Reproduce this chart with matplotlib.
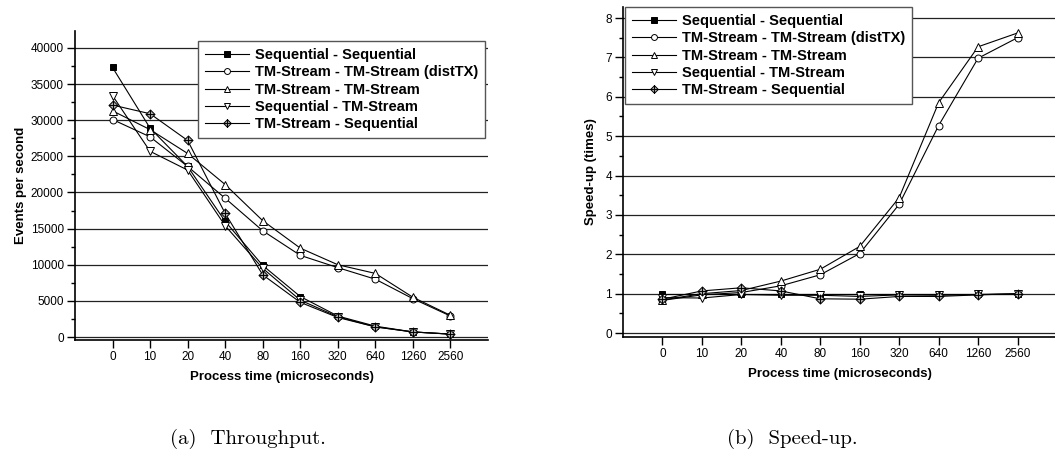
import matplotlib
matplotlib.use("Agg")
import matplotlib.pyplot as plt
from matplotlib.path import Path
from matplotlib.ticker import MultipleLocator

plt.rcParams['font.family'] = ['Liberation Sans', 'DejaVu Sans']

# Datos
tiempos = ["0", "10", "20", "40", "80", "160", "320", "640", "1260", "2560"]
series = ["Sequential - Sequential", "TM-Stream - TM-Stream (distTX)",
          "TM-Stream - TM-Stream", "Sequential - TM-Stream", "TM-Stream - Sequential"]

# Throughput (eventos por segundo)
thr_seq_seq = [37300, 28900, 23600, 16000, 9900, 5600, 2900, 1500, 700, 400]
thr_tm_dist = [30100, 27700, 23600, 19200, 14700, 11300, 9600, 8000, 5300, 2900]
thr_tm_tm = [31300, 28700, 25400, 21100, 16100, 12300, 10000, 8800, 5500, 3000]
thr_seq_tm = [33400, 25700, 23100, 15400, 9500, 5100, 2800, 1400, 700, 400]
thr_tm_seq = [32100, 30900, 27200, 17100, 8600, 4800, 2700, 1400, 700, 400]

# Speed-up (veces)
sp_seq_seq = [1.0, 1.0, 1.0, 1.0, 1.0, 1.0, 1.0, 1.0, 1.0, 1.0]
sp_tm_dist = [0.83, 0.97, 1.03, 1.2, 1.48, 2.02, 3.27, 5.27, 6.98, 7.5]
sp_tm_tm = [0.84, 1.0, 1.08, 1.32, 1.62, 2.2, 3.44, 5.85, 7.27, 7.62]
sp_seq_tm = [0.9, 0.89, 0.98, 0.96, 0.96, 0.93, 0.97, 0.96, 0.98, 1.0]
sp_tm_seq = [0.86, 1.07, 1.15, 1.07, 0.87, 0.86, 0.93, 0.93, 0.97, 1.0]

# Marcador rombo con cruz
rombo_cruz = Path(
    [(0, -1), (1, 0), (0, 1), (-1, 0), (0, -1),
     (0, -1), (0, 1), (-1, 0), (1, 0)],
    [Path.MOVETO, Path.LINETO, Path.LINETO, Path.LINETO, Path.CLOSEPOLY,
     Path.MOVETO, Path.LINETO, Path.MOVETO, Path.LINETO])

estilos = [
    dict(marker="s", mfc="black", ms=4.5),
    dict(marker="o", mfc="white", ms=5),
    dict(marker="^", mfc="white", ms=5.5),
    dict(marker="v", mfc="white", ms=5.5),
    dict(marker=rombo_cruz, mfc="#aaaaaa", ms=6.5),
]

fig = plt.figure(figsize=(10.55, 4.55), dpi=100)
W, H = 1055, 455


def ejes(x0, x1, y0, y1):
    return fig.add_axes([x0 / W, 1 - y1 / H, (x1 - x0) / W, (y1 - y0) / H])


def dibujar(ax, datos, ylim, mayor, menor, ylabel, leg_xy, ypad):
    x = range(len(tiempos))
    for nombre, ys, st in zip(series, datos, estilos):
        ax.plot(x, ys, color="black", lw=0.8, mec="black", mew=0.7,
                label=nombre, **st)
    ax.set_xlim(-1, 10)
    ax.set_ylim(*ylim)
    ax.set_xticks(list(x))
    ax.set_xticklabels(tiempos, fontsize=8.5)
    ax.yaxis.set_major_locator(MultipleLocator(mayor))
    ax.yaxis.set_minor_locator(MultipleLocator(menor))
    ax.tick_params(axis="y", labelsize=8.5, direction="out", length=6, width=1, pad=2)
    ax.tick_params(axis="y", which="minor", direction="out", length=3, width=1)
    ax.tick_params(axis="x", direction="out", length=6, width=1, pad=2)
    ax.grid(axis="y", which="major", color="#222222", lw=0.9)
    ax.set_axisbelow(True)
    for s in ("top", "right"):
        ax.spines[s].set_visible(False)
    for s in ("left", "bottom"):
        ax.spines[s].set_linewidth(1.2)
    ax.set_ylabel(ylabel, fontsize=9.5, fontweight="bold", labelpad=ypad)
    ax.set_xlabel("Process time (microseconds)", fontsize=9.5,
                  fontweight="bold", labelpad=6)
    leg = ax.legend(loc="upper left", bbox_to_anchor=(leg_xy[0] / W, 1 - leg_xy[1] / H),
                    bbox_transform=fig.transFigure, borderaxespad=0,
                    fancybox=False, edgecolor="#555555", framealpha=1,
                    handlelength=3.0, handletextpad=0.4, borderpad=0.5,
                    labelspacing=0.22, markerscale=0.85,
                    prop={"size": 10.5, "weight": "bold"})
    leg.get_frame().set_linewidth(1)


ax1 = ejes(75, 488, 31, 340)
dibujar(ax1, [thr_seq_seq, thr_tm_dist, thr_tm_tm, thr_seq_tm, thr_tm_seq],
        (-415, 42350), 5000, 2500, "Events per second", (198, 41), 3)

ax2 = ejes(623, 1057, 7, 337)
dibujar(ax2, [sp_seq_seq, sp_tm_dist, sp_tm_tm, sp_seq_tm, sp_tm_seq],
        (-0.1, 8.28), 1, 0.5, "Speed-up (times)", (625, 7), 6)

fig.text(248 / W, 1 - 439 / H, "(a)  Throughput.", family="cmr10",
         fontsize=15, ha="center", va="center")
fig.text(792 / W, 1 - 439 / H, "(b)  Speed-up.", family="cmr10",
         fontsize=15, ha="center", va="center")

fig.savefig("out.png", dpi=100)
